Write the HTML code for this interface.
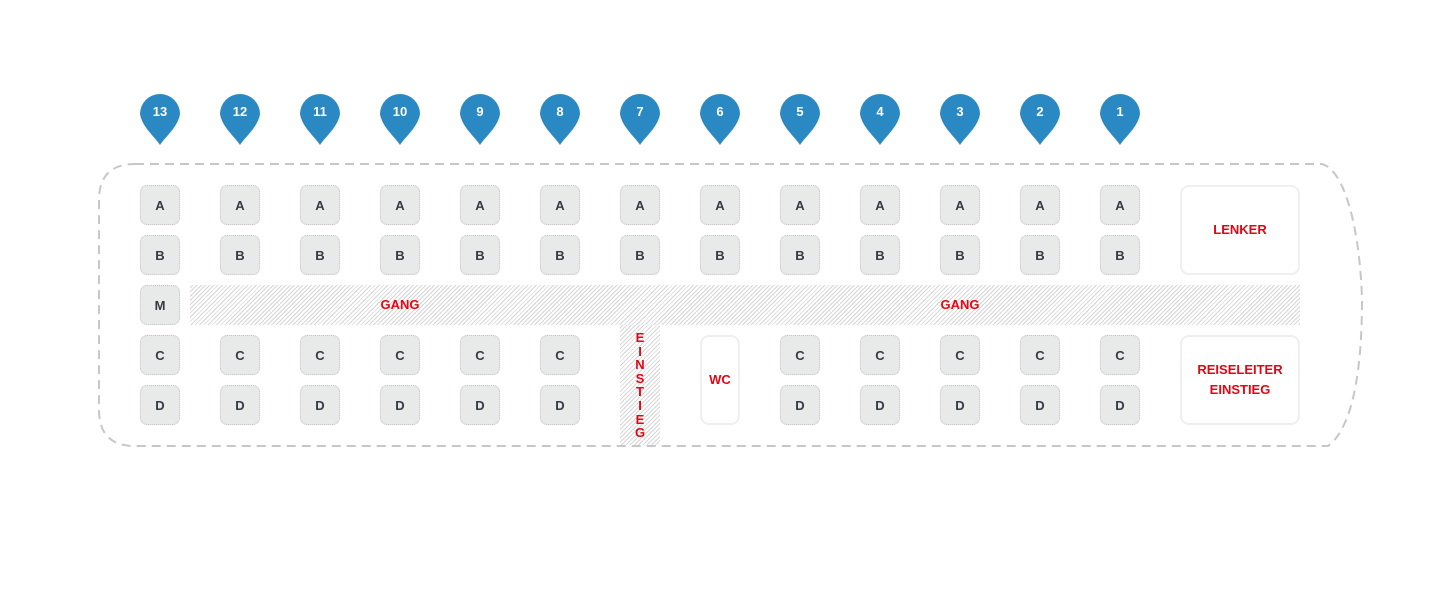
<!DOCTYPE html>
<html><head><meta charset="utf-8"><style>
body{margin:0;width:1447px;height:613px;background:#fff;position:relative;overflow:hidden;font-family:"Liberation Sans",sans-serif}
.s{position:absolute;width:38px;height:38px;background:#e8e9e9;border:1px dotted #c4c4c4;border-radius:7px;box-sizing:content-box;display:flex;align-items:center;justify-content:center;font-weight:bold;font-size:13px;color:#333a44}
.h{position:absolute;background:repeating-linear-gradient(135deg,#fff 0 1.5px,#d6d6d6 1.5px 2.5px,#fff 2.5px 3px)}
.r{position:absolute;color:#e30613;font-weight:bold;font-size:13px;text-align:center}
.b{position:absolute;border:2px solid #efefef;border-radius:9px;box-sizing:border-box;display:flex;align-items:center;justify-content:center;color:#e30613;font-weight:bold;font-size:13px;text-align:center;line-height:20px}
.p{position:absolute;top:92px;width:40px;height:54px}
.p span{position:absolute;left:0;top:12px;width:40px;text-align:center;color:#fff;font-weight:bold;font-size:13px}
</style></head><body>
<svg width="1447" height="613" style="position:absolute;left:0;top:0">
<path d="M135,164 L1322,164 C1345,170 1360,230 1362,300 C1362,380 1350,430 1328,446 L135,446 Q99,446 99,410 L99,200 Q99,164 135,164 Z" fill="none" stroke="#c6c8c8" stroke-width="2" stroke-dasharray="9,6"/>
</svg>
<div class="h" style="left:190px;top:285px;width:1110px;height:40px"></div>
<div class="h" style="left:620px;top:325px;width:40px;height:120px"></div>
<div class="r" style="left:360px;top:297px;width:80px">GANG</div>
<div class="r" style="left:920px;top:297px;width:80px">GANG</div>
<div class="r" style="left:620px;top:331px;width:40px;line-height:13.6px">E<br>I<br>N<br>S<br>T<br>I<br>E<br>G</div>
<div class="b" style="left:700px;top:335px;width:40px;height:90px">WC</div>
<div class="b" style="left:1180px;top:185px;width:120px;height:90px">LENKER</div>
<div class="b" style="left:1180px;top:335px;width:120px;height:90px">REISELEITER<br>EINSTIEG</div>

<div class="p" style="left:140px"><svg width="40" height="54"><path d="M20,53 C15,45 2,35 0,22 A20,20 0 1 1 40,22 C38,35 25,45 20,53 Z" fill="#2a89c3"/></svg><span>13</span></div>
<div class="p" style="left:220px"><svg width="40" height="54"><path d="M20,53 C15,45 2,35 0,22 A20,20 0 1 1 40,22 C38,35 25,45 20,53 Z" fill="#2a89c3"/></svg><span>12</span></div>
<div class="p" style="left:300px"><svg width="40" height="54"><path d="M20,53 C15,45 2,35 0,22 A20,20 0 1 1 40,22 C38,35 25,45 20,53 Z" fill="#2a89c3"/></svg><span>11</span></div>
<div class="p" style="left:380px"><svg width="40" height="54"><path d="M20,53 C15,45 2,35 0,22 A20,20 0 1 1 40,22 C38,35 25,45 20,53 Z" fill="#2a89c3"/></svg><span>10</span></div>
<div class="p" style="left:460px"><svg width="40" height="54"><path d="M20,53 C15,45 2,35 0,22 A20,20 0 1 1 40,22 C38,35 25,45 20,53 Z" fill="#2a89c3"/></svg><span>9</span></div>
<div class="p" style="left:540px"><svg width="40" height="54"><path d="M20,53 C15,45 2,35 0,22 A20,20 0 1 1 40,22 C38,35 25,45 20,53 Z" fill="#2a89c3"/></svg><span>8</span></div>
<div class="p" style="left:620px"><svg width="40" height="54"><path d="M20,53 C15,45 2,35 0,22 A20,20 0 1 1 40,22 C38,35 25,45 20,53 Z" fill="#2a89c3"/></svg><span>7</span></div>
<div class="p" style="left:700px"><svg width="40" height="54"><path d="M20,53 C15,45 2,35 0,22 A20,20 0 1 1 40,22 C38,35 25,45 20,53 Z" fill="#2a89c3"/></svg><span>6</span></div>
<div class="p" style="left:780px"><svg width="40" height="54"><path d="M20,53 C15,45 2,35 0,22 A20,20 0 1 1 40,22 C38,35 25,45 20,53 Z" fill="#2a89c3"/></svg><span>5</span></div>
<div class="p" style="left:860px"><svg width="40" height="54"><path d="M20,53 C15,45 2,35 0,22 A20,20 0 1 1 40,22 C38,35 25,45 20,53 Z" fill="#2a89c3"/></svg><span>4</span></div>
<div class="p" style="left:940px"><svg width="40" height="54"><path d="M20,53 C15,45 2,35 0,22 A20,20 0 1 1 40,22 C38,35 25,45 20,53 Z" fill="#2a89c3"/></svg><span>3</span></div>
<div class="p" style="left:1020px"><svg width="40" height="54"><path d="M20,53 C15,45 2,35 0,22 A20,20 0 1 1 40,22 C38,35 25,45 20,53 Z" fill="#2a89c3"/></svg><span>2</span></div>
<div class="p" style="left:1100px"><svg width="40" height="54"><path d="M20,53 C15,45 2,35 0,22 A20,20 0 1 1 40,22 C38,35 25,45 20,53 Z" fill="#2a89c3"/></svg><span>1</span></div>

<div class="s" style="left:140px;top:185px">A</div><div class="s" style="left:220px;top:185px">A</div><div class="s" style="left:300px;top:185px">A</div><div class="s" style="left:380px;top:185px">A</div><div class="s" style="left:460px;top:185px">A</div><div class="s" style="left:540px;top:185px">A</div><div class="s" style="left:620px;top:185px">A</div><div class="s" style="left:700px;top:185px">A</div><div class="s" style="left:780px;top:185px">A</div><div class="s" style="left:860px;top:185px">A</div><div class="s" style="left:940px;top:185px">A</div><div class="s" style="left:1020px;top:185px">A</div><div class="s" style="left:1100px;top:185px">A</div>
<div class="s" style="left:140px;top:235px">B</div><div class="s" style="left:220px;top:235px">B</div><div class="s" style="left:300px;top:235px">B</div><div class="s" style="left:380px;top:235px">B</div><div class="s" style="left:460px;top:235px">B</div><div class="s" style="left:540px;top:235px">B</div><div class="s" style="left:620px;top:235px">B</div><div class="s" style="left:700px;top:235px">B</div><div class="s" style="left:780px;top:235px">B</div><div class="s" style="left:860px;top:235px">B</div><div class="s" style="left:940px;top:235px">B</div><div class="s" style="left:1020px;top:235px">B</div><div class="s" style="left:1100px;top:235px">B</div>
<div class="s" style="left:140px;top:285px">M</div>
<div class="s" style="left:140px;top:335px">C</div><div class="s" style="left:220px;top:335px">C</div><div class="s" style="left:300px;top:335px">C</div><div class="s" style="left:380px;top:335px">C</div><div class="s" style="left:460px;top:335px">C</div><div class="s" style="left:540px;top:335px">C</div><div class="s" style="left:780px;top:335px">C</div><div class="s" style="left:860px;top:335px">C</div><div class="s" style="left:940px;top:335px">C</div><div class="s" style="left:1020px;top:335px">C</div><div class="s" style="left:1100px;top:335px">C</div>
<div class="s" style="left:140px;top:385px">D</div><div class="s" style="left:220px;top:385px">D</div><div class="s" style="left:300px;top:385px">D</div><div class="s" style="left:380px;top:385px">D</div><div class="s" style="left:460px;top:385px">D</div><div class="s" style="left:540px;top:385px">D</div><div class="s" style="left:780px;top:385px">D</div><div class="s" style="left:860px;top:385px">D</div><div class="s" style="left:940px;top:385px">D</div><div class="s" style="left:1020px;top:385px">D</div><div class="s" style="left:1100px;top:385px">D</div>
</body></html>
